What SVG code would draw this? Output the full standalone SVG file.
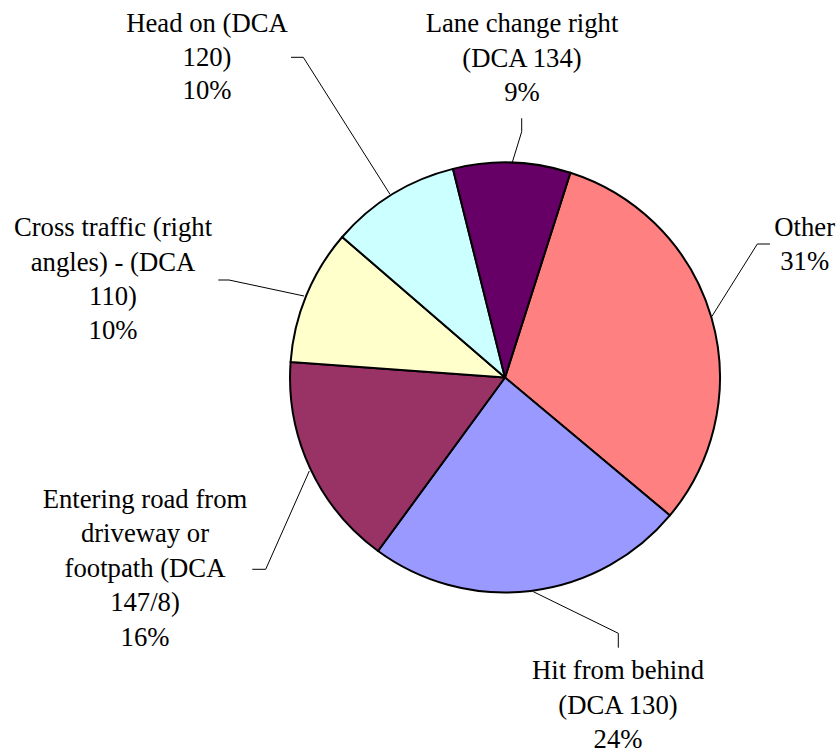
<svg xmlns="http://www.w3.org/2000/svg" width="839" height="751" viewBox="0 0 839 751">
<style>
.s{stroke:#000;stroke-width:2;stroke-linejoin:round}
.l{fill:none;stroke:#000;stroke-width:1}
.t{font-family:'Liberation Serif','Times New Roman',Times,serif;font-size:26.7px;fill:#000;text-anchor:middle}
</style>
<rect width="839" height="751" fill="#fff"/>
<g id="slice-other"><path class="s" fill="#FF8080" d="M505,377.5 L570.4,172.7 A215,215 0 0 1 669.9,515.4 Z"/></g>
<g id="slice-hit"><path class="s" fill="#9999FF" d="M505,377.5 L669.9,515.4 A215,215 0 0 1 378.0,551.0 Z"/></g>
<g id="slice-entering"><path class="s" fill="#993366" d="M505,377.5 L378.0,551.0 A215,215 0 0 1 290.6,362.1 Z"/></g>
<g id="slice-cross"><path class="s" fill="#FFFFCC" d="M505,377.5 L290.6,362.1 A215,215 0 0 1 342.2,237.0 Z"/></g>
<g id="slice-head"><path class="s" fill="#CCFFFF" d="M505,377.5 L342.2,237.0 A215,215 0 0 1 453.0,168.9 Z"/></g>
<g id="slice-lane"><path class="s" fill="#660066" d="M505,377.5 L453.0,168.9 A215,215 0 0 1 570.4,172.7 Z"/></g>
<g id="connectors">
<polyline class="l" points="291,57.3 303.3,57.3 390,194.3"/>
<polyline class="l" points="218.3,280 229,280 304,296"/>
<polyline class="l" points="521.7,118.3 521.7,131.7 512.3,162.3"/>
<polyline class="l" points="770,244 757.3,244 711.7,316.7"/>
<polyline class="l" points="252.3,569.3 265.7,569.3 309.3,471"/>
<polyline class="l" points="533.3,591.7 618.3,633.3 618.3,647.7"/>
</g>
<g id="label-head" class="t"><text x="207" y="32">Head on (DCA</text><text x="207" y="65.7">120)</text><text x="207" y="99.4">10%</text></g>
<g id="label-lane" class="t"><text x="522" y="32.3">Lane change right</text><text x="522" y="66.5">(DCA 134)</text><text x="522" y="100.7">9%</text></g>
<g id="label-cross" class="t"><text x="113" y="236">Cross traffic (right</text><text x="113" y="270.5">angles) - (DCA</text><text x="113" y="305">110)</text><text x="113" y="339.4">10%</text></g>
<g id="label-other" class="t"><text x="804.7" y="235.5">Other</text><text x="804.7" y="269.8">31%</text></g>
<g id="label-entering" class="t"><text x="145" y="507.5">Entering road from</text><text x="145" y="542">driveway or</text><text x="145" y="576.6">footpath (DCA</text><text x="145" y="611.2">147/8)</text><text x="145" y="645.8">16%</text></g>
<g id="label-hit" class="t"><text x="618" y="679.3">Hit from behind</text><text x="618" y="713.8">(DCA 130)</text><text x="618" y="747.5">24%</text></g>
</svg>
